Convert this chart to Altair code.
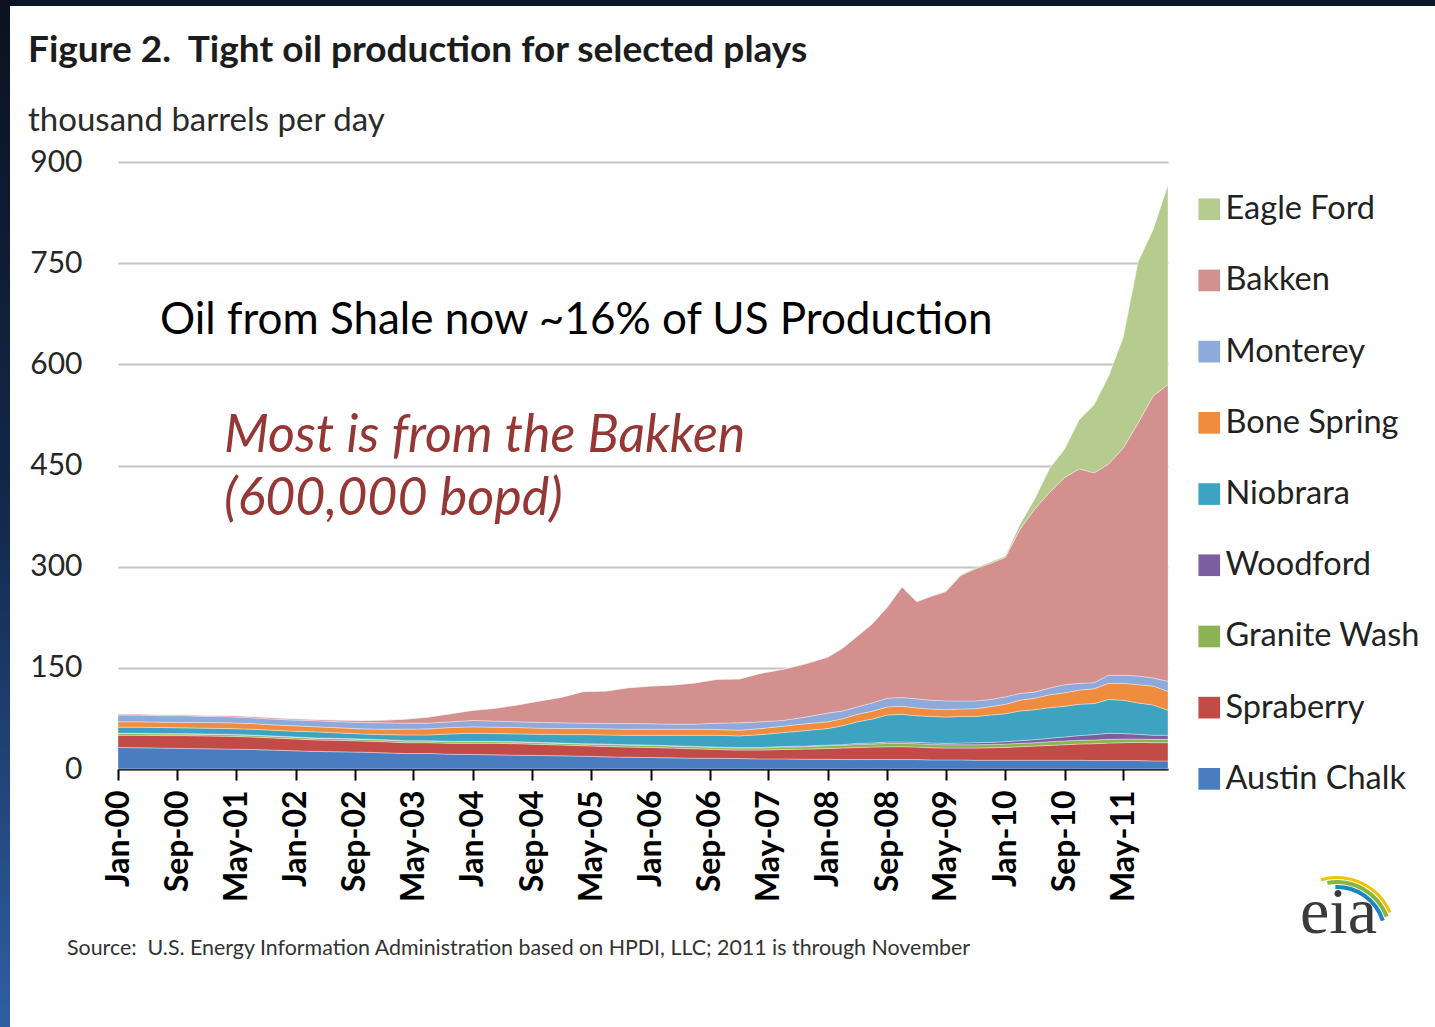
import altair as alt
import pandas as pd

# ---------------- data (thousand barrels per day) ----------------
dates = [
    "2000-01-01", "2000-04-01", "2000-07-01", "2000-10-01",
    "2001-01-01", "2001-04-01", "2001-07-01", "2001-10-01",
    "2002-01-01", "2002-04-01", "2002-07-01", "2002-10-01",
    "2003-01-01", "2003-04-01", "2003-07-01", "2003-10-01",
    "2004-01-01", "2004-04-01", "2004-07-01", "2004-10-01",
    "2005-01-01", "2005-04-01", "2005-07-01", "2005-10-01",
    "2006-01-01", "2006-04-01", "2006-07-01", "2006-10-01",
    "2007-01-01", "2007-04-01", "2007-07-01", "2007-10-01",
    "2008-01-01", "2008-03-01", "2008-05-01", "2008-07-01", "2008-09-01", "2008-11-01",
    "2009-01-01", "2009-03-01", "2009-05-01", "2009-07-01", "2009-09-01", "2009-11-01",
    "2010-01-01", "2010-03-01", "2010-05-01", "2010-07-01", "2010-09-01", "2010-11-01",
    "2011-01-01", "2011-03-01", "2011-05-01", "2011-07-01", "2011-09-01", "2011-11-01",
]

austin_chalk = [32, 31.5, 31, 30.5, 30, 29.5, 29, 28, 27, 26, 25.5, 25, 24, 23, 23, 22,
                21.5, 21, 20.5, 20, 19.5, 19, 18, 17.5, 17, 16.5, 16, 16, 15.5, 15, 15, 14.5,
                14.5, 14, 14, 14, 14, 14, 14, 13.5, 13.5, 13.5, 13, 13,
                13, 13, 13, 13, 13, 13, 12.5, 12.5, 12.5, 12.5, 12, 12]
spraberry = [18, 18.5, 18.5, 19, 19, 19, 18.5, 18, 17.5, 17, 17, 16.5, 16.5, 16, 16, 16,
             16.5, 17, 17, 16.5, 16, 15.5, 15.5, 15, 15, 14.5, 14, 13, 12.5, 13, 14, 15,
             16, 17, 18, 18.5, 19, 19, 18.5, 18, 17.5, 17.5, 18, 18.5,
             19, 20, 21, 22, 23, 24, 25, 26, 26.5, 27, 27, 27]
granite_wash = [2.5, 2.5, 2.5, 2.5, 2.5, 2.5, 2.5, 2.5, 2.5, 2.5, 2.5, 2.5, 2.5, 2.5, 2.5, 2.5,
                2.5, 2.5, 2.5, 2.5, 2.5, 2.5, 3, 3, 3, 3, 3, 3, 3, 3, 3.5, 3.5,
                4, 4, 4.5, 4.5, 5, 5, 5, 5, 5, 5, 5, 5,
                5, 5, 5, 5.5, 5.5, 5.5, 5.5, 5.5, 5.5, 5, 5, 5]
woodford = [0.5, 0.5, 0.5, 0.5, 0.5, 0.5, 0.5, 0.5, 0.5, 0.5, 0.5, 0.5, 0.5, 0.5, 0.5, 0.5,
            0.5, 0.5, 0.5, 0.5, 0.5, 0.5, 0.5, 0.5, 0.5, 0.5, 0.5, 0.5, 1, 1, 1, 1,
            1, 1, 1.5, 1.5, 2, 2, 2, 2, 2, 2.5, 3, 3,
            3.5, 4, 4.5, 5, 6, 7, 8, 9, 8, 7, 6, 6]
niobrara = [9, 9, 9, 8.5, 8.5, 8.5, 8.5, 8.5, 8.5, 9, 8, 7.5, 7.5, 8.5, 8.5, 11,
            12, 11.5, 11.5, 12, 12.5, 13.5, 13.5, 14, 14.5, 15.5, 16.5, 17.5, 17, 19, 20.5, 23,
            24.5, 28, 32, 35.5, 40, 41, 39.5, 39.5, 39, 39.5, 39, 40.5,
            41.5, 44, 44.5, 45.5, 45.5, 46.5, 46, 50, 49.5, 46.5, 45, 37]
bone_spring = [8, 8, 8, 8, 8.5, 8.5, 8.5, 8, 8, 7.5, 7.5, 7.5, 8, 8.5, 9, 9.5,
               9.5, 9.5, 9.5, 9, 9, 9, 9, 9, 9, 9, 9, 8.5, 8.5, 9, 9.5, 10,
               10, 10.5, 11, 11.5, 12, 12, 11.5, 11, 11, 11, 11.5, 12.5,
               14, 16, 17, 19, 20, 21, 22, 24, 25, 27, 28, 28]
monterey = [10, 10, 9.5, 10, 9, 9, 8.5, 8.5, 8.5, 9, 9, 9.5, 9.5, 9, 8.5, 8.5,
            9.5, 9, 8.5, 8.5, 8.5, 8, 8, 8.5, 8, 7.5, 7.5, 9.5, 11, 10, 8.5, 10,
            13, 11.5, 11, 12.5, 13, 13, 13.5, 13, 13, 12, 11.5, 10.5,
            11, 10, 9, 10, 12, 10, 9, 12, 12, 13, 12, 15]
bakken = [1.5, 1.5, 1.5, 1.5, 1.5, 2, 2, 2, 2, 2, 2.5, 3, 4, 6, 9, 12,
          15, 19, 25, 32, 38, 47, 48, 53, 56, 58, 61, 65, 65, 72, 76, 79,
          83, 93, 105, 117, 135, 164, 144, 154, 162, 186, 196, 202,
          207, 243, 271, 290, 307, 318, 311, 313, 337, 375, 418, 440]
eagle_ford = [0, 0, 0, 0, 0, 0, 0, 0, 0, 0, 0, 0, 0, 0, 0, 0,
              0, 0, 0, 0, 0, 0, 0, 0, 0, 0, 0, 0, 0, 0, 0, 0,
              0, 0, 0, 0, 0, 0, 0.5, 0.5, 1, 1, 1.5, 2,
              2, 7, 15, 35, 42, 73, 101, 130, 164, 239, 247, 296]

plays = ["Austin Chalk", "Spraberry", "Granite Wash", "Woodford", "Niobrara",
         "Bone Spring", "Monterey", "Bakken", "Eagle Ford"]
series = [austin_chalk, spraberry, granite_wash, woodford, niobrara,
          bone_spring, monterey, bakken, eagle_ford]
play_colors = ["#4A7CC0", "#C24A47", "#8DB254", "#7B5EA0", "#3DA3C0",
               "#F08C3E", "#8EA9DB", "#D48F8F", "#B5CC8E"]

y_ticks = [0, 150, 300, 450, 600, 750, 900]
x_tick_months = [(2000, 1), (2000, 9), (2001, 5), (2002, 1), (2002, 9), (2003, 5),
                 (2004, 1), (2004, 9), (2005, 5), (2006, 1), (2006, 9), (2007, 5),
                 (2008, 1), (2008, 9), (2009, 5), (2010, 1), (2010, 9), (2011, 5)]

rows = []
for rank, (name, vals) in enumerate(zip(plays, series)):
    for d, v in zip(dates, vals):
        rows.append({"date": d, "play": name, "value": v, "rank": rank})
df = pd.DataFrame(rows)

legend_domain = plays[::-1]
legend_range = play_colors[::-1]

# ---------------- layout ----------------
OX, OY = 118, 162          # plot origin in page pixels
W, H = 1050, 607           # plot area
FONT = "Lato"
NB = "\u00a0"

area = alt.Chart(df).mark_area(
    interpolate="linear", stroke="white", strokeWidth=0.8, strokeOpacity=0.45
).encode(
    x=alt.X(
        "date:T",
        scale=alt.Scale(type="utc", nice=False,
                        domain=[alt.DateTime(year=2000, month=1, date=1, utc=True),
                                alt.DateTime(year=2011, month=11, date=1, utc=True)]),
        axis=alt.Axis(
            values=[alt.DateTime(year=y, month=m, date=1, utc=True) for y, m in x_tick_months],
            labelExpr="utcFormat(datum.value, '%b-%y')",
            title=None, grid=False,
            domain=True, domainColor="#000000", domainWidth=2,
            ticks=True, tickColor="#000000", tickWidth=2, tickSize=11,
            labelAngle=270, labelAlign="right", labelBaseline="middle",
            labelFont=FONT, labelFontWeight="bold", labelFontSize=32,
            labelColor="#000000", labelPadding=10, labelOverlap=False, labelFlush=False,
        ),
    ),
    y=alt.Y(
        "value:Q", stack="zero",
        scale=alt.Scale(domain=[0, 900], nice=False),
        axis=alt.Axis(
            values=y_ticks, title=None, domain=False, ticks=False,
            grid=True, gridColor="#c4c4c4", gridWidth=2,
            labelFont=FONT, labelFontSize=30, labelColor="#262626", labelPadding=36,
        ),
    ),
    color=alt.Color(
        "play:N",
        scale=alt.Scale(domain=legend_domain, range=legend_range),
        legend=alt.Legend(
            orient="none", legendX=1193 - OX, legendY=193 - OY, title=None,
            symbolType="square", symbolSize=470, symbolStrokeWidth=0, symbolOpacity=1,
            labelFont=FONT, labelFontSize=32.5, labelColor="#222222",
            labelOffset=0, rowPadding=38.2, padding=0, labelLimit=400,
        ),
    ),
    order=alt.Order("rank:Q", sort="ascending"),
)


def text_layer(text, px, py, size, weight="normal", style="normal", color="#000000",
               font=FONT, align="left", baseline="alphabetic"):
    return alt.Chart(pd.DataFrame({"t": [text]})).mark_text(
        align=align, baseline=baseline, fontSize=size, fontWeight=weight,
        fontStyle=style, color=color, font=font,
    ).encode(x=alt.value(px - OX), y=alt.value(py - OY), text="t:N")


def arc_layer(color, cx, cy, r_in, r_out, t0, t1):
    return alt.Chart(pd.DataFrame({"k": [0]})).mark_arc(color=color).encode(
        x=alt.value(cx - OX), y=alt.value(cy - OY),
        radius=alt.value(r_out), radius2=alt.value(r_in),
        theta=alt.value(t0), theta2=alt.value(t1),
    )


title = text_layer("Figure 2." + NB + " Tight oil production for selected plays", 28, 62, 37,
                   weight="bold", color="#1c1c1c")
units = text_layer("thousand barrels per day", 28, 131, 33, color="#2a2a2a")
note1 = text_layer("Oil from Shale now ~16% of US Production", 160, 334, 44, color="#000000")
note2 = text_layer("Most is from the Bakken", 224, 452, 52, style="italic", color="#953735")
note3 = text_layer("(600,000 bopd)", 224, 515, 52, style="italic", color="#953735")
source = text_layer("Source:" + NB + " U.S. Energy Information Administration based on HPDI, LLC; 2011 is through November",
                    67, 955, 21.4, color="#333333")
logo = text_layer("eia", 1300, 933, 66, color="#3a3a3a", font="Liberation Serif")
swoosh_y = arc_layer("#F2C200", 1337, 935, 56, 59, 6.0, 7.45)
swoosh_g = arc_layer("#86B83A", 1337, 935, 51, 55, 6.1, 7.5)
swoosh_b = arc_layer("#1B86C6", 1337, 935, 46, 50, 6.25, 7.55)

border_top = alt.Chart(pd.DataFrame({"k": [0]})).mark_rect(color="#0b1526").encode(
    x=alt.value(-OX), x2=alt.value(1435 - OX), y=alt.value(-OY), y2=alt.value(6 - OY)
)
border_left = alt.Chart(pd.DataFrame({"k": [0]})).mark_rect(
    color=alt.Gradient(
        gradient="linear", x1=0, x2=0, y1=0, y2=1,
        stops=[alt.GradientStop(color="#0a1220", offset=0),
               alt.GradientStop(color="#13294b", offset=0.5),
               alt.GradientStop(color="#2f5fa3", offset=1)],
    )
).encode(
    x=alt.value(-OX), x2=alt.value(10 - OX), y=alt.value(-OY), y2=alt.value(1027 - OY)
)

chart = alt.layer(
    area, title, units, note1, note2, note3, source,
    swoosh_y, swoosh_g, swoosh_b, logo, border_top, border_left
).properties(
    width=W, height=H,
    padding={"left": OX, "top": OY, "right": 1435 - OX - W, "bottom": 1027 - OY - H},
    autosize=alt.AutoSizeParams(type="none"),
    background="#ffffff",
).configure_view(stroke=None)

chart.save("out.html", embed_options={"renderer": "svg", "actions": False})
